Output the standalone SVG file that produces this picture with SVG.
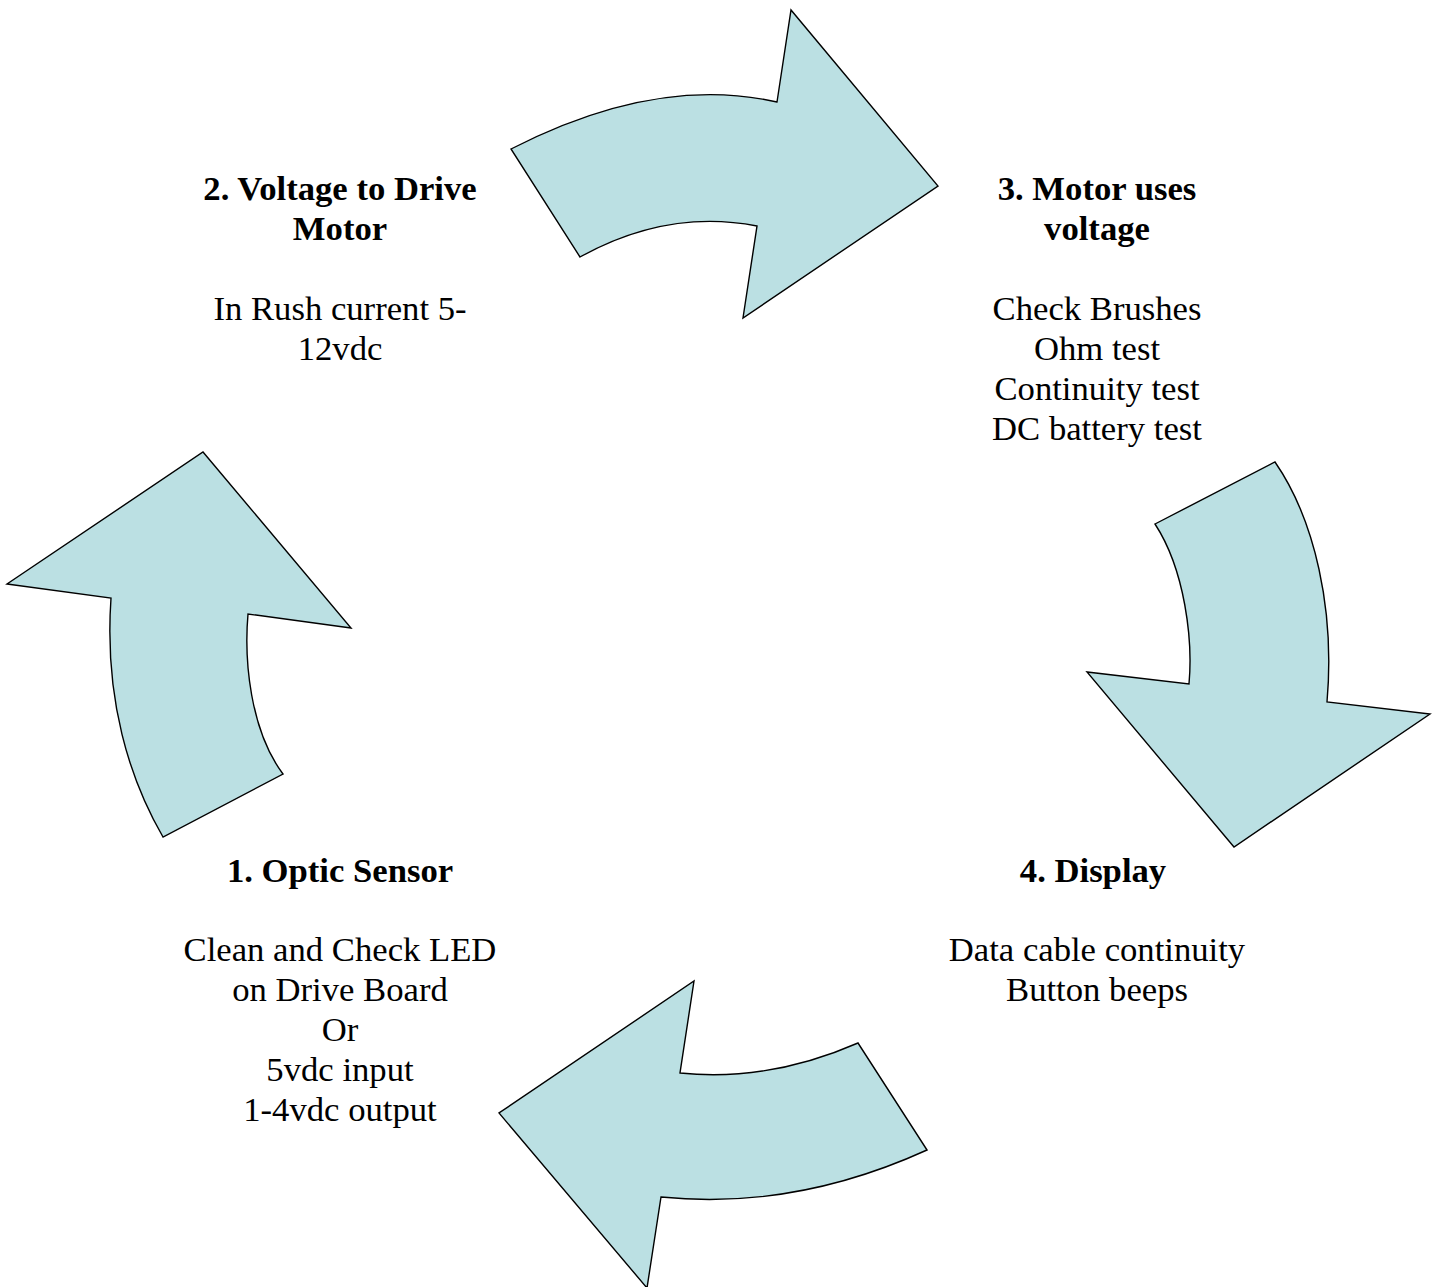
<svg xmlns="http://www.w3.org/2000/svg" width="1437" height="1287" viewBox="0 0 1437 1287">
<style>
.arrow{fill:#BBE0E3;stroke:#000;stroke-width:1.4;stroke-linejoin:miter}
text{font-family:"Liberation Serif","Times New Roman",serif;font-size:34.67px;fill:#000;text-anchor:middle}
.b{font-weight:bold}
</style>
<rect width="1437" height="1287" fill="#fff"/>
<g id="connectors">
<path id="arrow-2-3" class="arrow" d="M 511 149 Q 656 74.5 777 102 L 791 10 L 938 186 L 743 318 L 757 226 Q 667.5 208.5 580 257 Z"/>
<path id="arrow-3-4" class="arrow" d="M 1155 524 L 1275 462 C 1315 520 1335 610 1327 702 L 1430 714 L 1234 847 L 1087 672 L 1189 684 C 1193 640 1185 570 1155 524 Z"/>
<path id="arrow-4-1" class="arrow" d="M 927 1150 L 858 1043 Q 769 1082 680 1073 L 694 981 L 499 1113 L 647 1288 L 661 1197 Q 794 1210.5 927 1150 Z"/>
<path id="arrow-1-2" class="arrow" d="M 163 837 C 130 780 104 700 111 598 L 7 584 L 203 452 L 351 628 L 248 614 C 244 660 250 730 283 774 Z"/>
</g>
<g id="node-2">
<text class="b" x="340" y="200">2. Voltage to Drive</text>
<text class="b" x="340" y="240">Motor</text>
<text x="340" y="320">In Rush current 5-</text>
<text x="340" y="360">12vdc</text>
</g>
<g id="node-3">
<text class="b" x="1097" y="200">3. Motor uses</text>
<text class="b" x="1097" y="240">voltage</text>
<text x="1097" y="320">Check Brushes</text>
<text x="1097" y="360">Ohm test</text>
<text x="1097" y="400">Continuity test</text>
<text x="1097" y="440">DC battery test</text>
</g>
<g id="node-1">
<text class="b" x="340" y="882">1. Optic Sensor</text>
<text x="340" y="961">Clean and Check LED</text>
<text x="340" y="1001">on Drive Board</text>
<text x="340" y="1041">Or</text>
<text x="340" y="1081">5vdc input</text>
<text x="340" y="1121">1-4vdc output</text>
</g>
<g id="node-4">
<text class="b" x="1093" y="882">4. Display</text>
<text x="1097" y="961">Data cable continuity</text>
<text x="1097" y="1001">Button beeps</text>
</g>
</svg>
